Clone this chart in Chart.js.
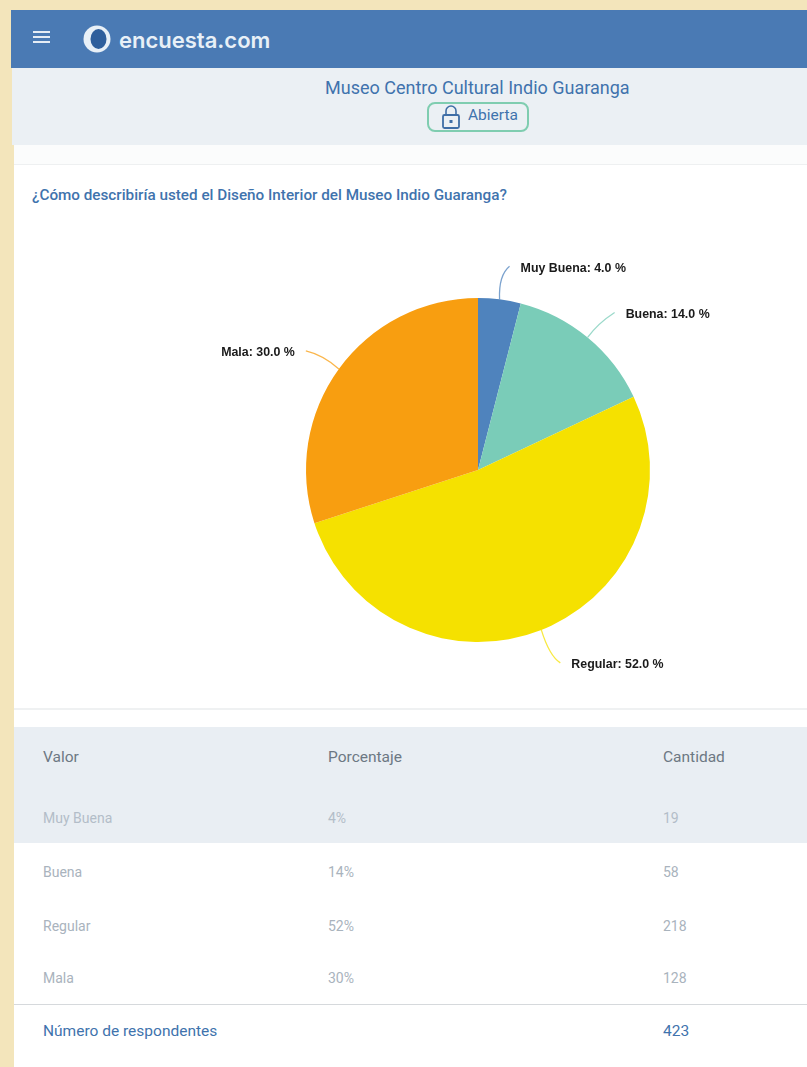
<!DOCTYPE html>
<html lang="es">
<head>
<meta charset="utf-8">
<title>Museo Centro Cultural Indio Guaranga</title>
<script src="https://cdn.jsdelivr.net/npm/chart.js@4/dist/chart.umd.min.js"></script>
<style>
    html, body { margin: 0; padding: 0; }
    body { width: 807px; height: 1067px; position: relative; overflow: hidden; background: #f3e5bb; font-family: Roboto, sans-serif; }
    .box { position: absolute; }
    .txt { position: absolute; white-space: nowrap; line-height: 1; transform: translateY(-50%); }
    #topbar { left: 11px; top: 10px; width: 796px; height: 58px; background: #4a7ab4; }
    #subbar { left: 12px; top: 68px; width: 795px; height: 77px; background: #ebf0f4; }
    #page { left: 14px; top: 145px; width: 793px; height: 922px; background: #fff; }
    #strip { left: 14px; top: 145px; width: 793px; height: 20px; background: #fbfcfc; border-bottom: 1px solid #eef0f1; box-sizing: border-box; }
    #sep { left: 14px; top: 708px; width: 793px; height: 2px; background: #eff1f2; }
    #tablehead { left: 14px; top: 727px; width: 793px; height: 116px; background: #e9eef3; }
    #totalline { left: 14px; top: 1004px; width: 793px; height: 1px; background: #d6d9dc; }
    #hamburger span { position: absolute; left: 0; width: 17px; height: 2px; background: #e6edf5; }
    #badge { left: 427px; top: 102px; width: 102px; height: 30px; box-sizing: border-box; border: 2px solid #7fcdb0; border-radius: 8px; }
    #chartbox { left: 178px; top: 240px; width: 600px; height: 460px; }
</style>
</head>
<body>
<div class="box" id="page"></div>
<div class="box" id="topbar"></div>
<div class="box" id="subbar"></div>
<div class="box" id="strip"></div>
<div class="box" id="sep"></div>
<div class="box" id="tablehead"></div>
<div class="box" id="totalline"></div>

<div class="box" id="hamburger" style="left:33px;top:31px;width:17px;height:14px">
    <span style="top:0"></span><span style="top:5px"></span><span style="top:10px"></span>
</div>
<svg class="box" style="left:82px;top:24px" width="30" height="30" viewBox="0 0 30 30">
    <circle cx="15" cy="15" r="13.5" fill="#e8f0f7"/>
    <ellipse cx="16.5" cy="15" rx="8" ry="10" fill="#2f5f9c"/>
</svg>
<div class="txt" style="left:119px;top:40px;font:600 22px Inter,sans-serif;color:#e8f0f7">encuesta.com</div>

<div class="txt" style="left:325px;top:88px;font-size:18px;color:#3f73ad">Museo Centro Cultural Indio Guaranga</div>
<div class="box" id="badge"></div>
<svg class="box" style="left:441px;top:104px" width="20" height="26" viewBox="0 0 20 26">
    <path d="M5 11 V7 a5 5 0 0 1 10 0 V11" fill="none" stroke="#3f6ea6" stroke-width="1.6"/>
    <rect x="2" y="11" width="16" height="13" rx="1.5" fill="none" stroke="#3f6ea6" stroke-width="1.8"/>
    <rect x="8.5" y="16" width="3" height="3" fill="#3f6ea6"/>
</svg>
<div class="txt" style="left:468px;top:116px;font-size:15.5px;color:#3f73ad">Abierta</div>

<div class="txt" style="left:32px;top:196px;font-size:15.25px;font-weight:500;color:#3f73ad">¿Cómo describiría usted el Diseño Interior del Museo Indio Guaranga?</div>

<div class="box" id="chartbox"><canvas id="pie"></canvas></div>

<div id="table"></div>

<script>
const categories = ['Muy Buena', 'Buena', 'Regular', 'Mala'];
const percentages = [4, 14, 52, 30];
const counts = [19, 58, 218, 128];
const totalRespondents = 423;
const tableHeaders = ['Valor', 'Porcentaje', 'Cantidad'];
const sliceColors = ['#4f83bd', '#7accb8', '#f5e100', '#f89e10'];

// leader line bend and end, relative to the slice's outer edge
const leaders = [
    { cx: -1, cy: -24, ex: 10, ey: -33, side: 'left' },
    { cx: 10, cy: -14, ex: 27, ey: -25, side: 'left' },
    { cx: 8, cy: 26, ex: 19, ey: 33, side: 'left' },
    { cx: -16, cy: -14, ex: -33, ey: -18, side: 'right' }
];

const sliceLabels = {
    id: 'sliceLabels',
    afterDatasetsDraw(chart) {
        const ctx = chart.ctx;
        chart.getDatasetMeta(0).data.forEach((arc, i) => {
            const mid = (arc.startAngle + arc.endAngle) / 2;
            const x = arc.x + Math.cos(mid) * arc.outerRadius;
            const y = arc.y + Math.sin(mid) * arc.outerRadius;
            const l = leaders[i];
            ctx.save();
            ctx.strokeStyle = sliceColors[i];
            ctx.globalAlpha = 0.75;
            ctx.lineWidth = 1.3;
            ctx.beginPath();
            ctx.moveTo(x, y);
            ctx.quadraticCurveTo(x + l.cx, y + l.cy, x + l.ex, y + l.ey);
            ctx.stroke();
            ctx.globalAlpha = 1;
            ctx.fillStyle = '#1a1a1a';
            ctx.font = "bold 12.4px 'Liberation Sans', Arial, sans-serif";
            ctx.textBaseline = 'middle';
            ctx.textAlign = l.side;
            const gap = l.side === 'left' ? 11 : -11;
            ctx.fillText(categories[i] + ': ' + percentages[i].toFixed(1) + ' %', x + l.ex + gap, y + l.ey + 2);
            ctx.restore();
        });
    }
};

new Chart(document.getElementById('pie'), {
    type: 'pie',
    data: {
        labels: categories,
        datasets: [{
            data: percentages,
            backgroundColor: sliceColors,
            borderWidth: 0
        }]
    },
    options: {
        responsive: true,
        maintainAspectRatio: false,
        animation: false,
        layout: { padding: 58 },
        plugins: {
            legend: { display: false },
            tooltip: { enabled: false }
        }
    },
    plugins: [sliceLabels]
});

// table rows come from the same arrays
const colX = [43, 328, 663];
const rowY = [818, 872, 926, 978];
const table = document.getElementById('table');

function addCell(text, x, y, color, size) {
    const el = document.createElement('div');
    el.className = 'txt';
    el.style.cssText = `left:${x}px;top:${y}px;color:${color};font-size:${size}px`;
    el.textContent = text;
    table.appendChild(el);
}

tableHeaders.forEach((h, c) => addCell(h, colX[c], 758, '#6d7883', 15.5));
categories.forEach((name, i) => {
    const color = i === 0 ? '#b3bdc8' : '#a9b3bd';
    addCell(name, colX[0], rowY[i], color, 14);
    addCell(percentages[i] + '%', colX[1], rowY[i], color, 14);
    addCell(String(counts[i]), colX[2], rowY[i], color, 14);
});
addCell('Número de respondentes', colX[0], 1032, '#3f73ad', 15.5);
addCell(String(totalRespondents), colX[2], 1032, '#3f73ad', 15.5);
</script>
</body>
</html>
